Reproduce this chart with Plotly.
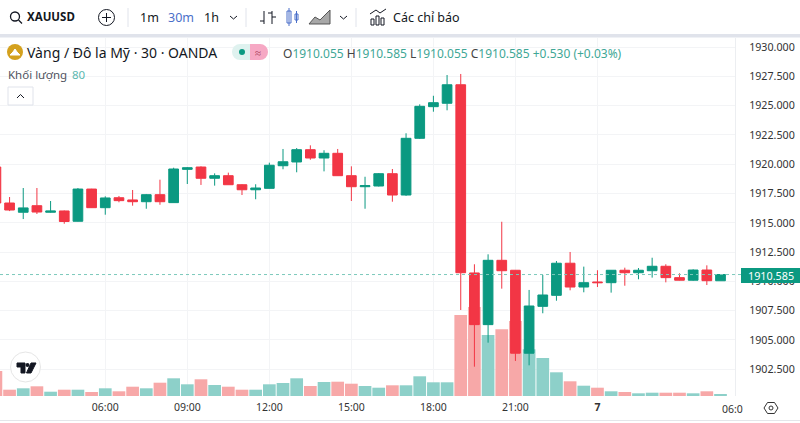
import plotly.graph_objects as go

FONT = "Noto Sans"
GREEN = "#0b9981"
RED = "#f23645"
VOL_GREEN = "#8dd0c9"
VOL_RED = "#f7a8a8"

# 30 minute bars, XAUUSD
open_ = [1919.76, 1916.69, 1915.90, 1916.46, 1915.90, 1916.01, 1915.13, 1917.88, 1916.29, 1917.14,
         1916.95, 1916.80, 1917.40, 1916.72, 1919.56, 1919.76, 1918.80, 1919.02, 1918.25, 1917.82,
         1917.94, 1919.87, 1920.19, 1921.24, 1920.53, 1920.93, 1919.02, 1918.08, 1918.14, 1919.19,
         1917.37, 1922.21, 1924.91, 1925.20, 1926.78, 1910.72, 1906.31, 1911.80, 1910.95, 1903.87,
         1907.87, 1908.81, 1911.55, 1909.52, 1909.95, 1909.89, 1910.95, 1910.74, 1910.91, 1911.29,
         1910.32, 1910.10, 1910.97, 1910.055]
high = [1919.93, 1917.20, 1917.97, 1917.97, 1916.86, 1916.05, 1917.97, 1917.90, 1917.26, 1917.29,
        1917.80, 1917.46, 1918.68, 1919.70, 1919.76, 1919.82, 1919.22, 1919.28, 1918.29, 1918.29,
        1920.13, 1921.30, 1921.38, 1921.61, 1921.19, 1921.30, 1919.82, 1918.93, 1919.25, 1919.59,
        1922.64, 1925.11, 1925.84, 1927.61, 1927.70, 1911.46, 1912.31, 1915.09, 1910.97, 1909.27,
        1910.55, 1911.74, 1912.51, 1911.26, 1910.95, 1910.97, 1911.17, 1911.14, 1912.02, 1911.46,
        1910.69, 1911.03, 1911.37, 1910.585]
low = [1916.52, 1916.00, 1915.32, 1915.75, 1915.86, 1914.92, 1915.11, 1916.27, 1915.69, 1916.75,
       1916.46, 1916.20, 1916.54, 1916.72, 1918.31, 1918.23, 1918.17, 1918.25, 1917.37, 1917.01,
       1917.93, 1919.57, 1919.31, 1920.38, 1919.39, 1919.00, 1916.86, 1916.20, 1918.10, 1916.80,
       1917.30, 1922.15, 1924.48, 1924.60, 1907.56, 1902.72, 1904.77, 1909.38, 1903.21, 1902.84,
       1907.28, 1908.35, 1909.24, 1909.07, 1909.52, 1909.04, 1909.63, 1910.18, 1910.32, 1909.92,
       1910.08, 1910.05, 1909.69, 1910.055]
close = [1916.69, 1916.09, 1916.27, 1915.92, 1916.01, 1915.11, 1917.88, 1916.29, 1917.12, 1916.89,
         1916.80, 1917.40, 1916.80, 1919.59, 1919.70, 1918.80, 1919.02, 1918.25, 1917.82, 1917.97,
         1919.91, 1920.21, 1921.24, 1920.53, 1920.93, 1919.02, 1918.08, 1918.17, 1919.19, 1917.37,
         1922.21, 1924.94, 1925.25, 1926.78, 1910.74, 1906.31, 1911.80, 1910.91, 1903.87, 1907.90,
         1908.84, 1911.55, 1909.52, 1909.89, 1909.89, 1910.95, 1910.74, 1910.95, 1911.29, 1910.32,
         1910.10, 1910.97, 1910.06, 1910.585]
volume = [1175, 296, 362, 456, 202, 296, 296, 188, 362, 221,
          437, 362, 625, 832, 550, 785, 517, 437, 296, 296,
          550, 611, 832, 470, 658, 672, 578, 470, 390, 503,
          503, 926, 644, 644, 3807, 4183, 2867, 3135, 3525, 2195,
          1786, 1114, 691, 484, 390, 221, 188, 127, 155, 155,
          155, 127, 221, 80]

tick_pos = [8, 14, 20, 26, 32, 38, 44]
tick_text = ["06:00", "09:00", "12:00", "15:00", "18:00", "21:00", "<b>7</b>"]
price_ticks = [1902.5, 1905, 1907.5, 1910, 1912.5, 1915, 1917.5, 1920, 1922.5, 1925, 1927.5, 1930]

bars = list(range(len(close)))
vol_colors = [VOL_GREEN if c >= o else VOL_RED for o, c in zip(open_, close)]

# plot area in page pixels, header and toolbar get placed with these
LEFT, RIGHT, TOP, BOTTOM = 0, 735, 38, 396


def px(x):
    return (x - LEFT) / (RIGHT - LEFT)


def py(y):
    return 1 - (y - TOP) / (BOTTOM - TOP)


fig = go.Figure()
fig.add_trace(go.Bar(x=bars, y=volume, marker=dict(color=vol_colors, line_width=0), yaxis="y"))
fig.add_trace(go.Candlestick(
    x=bars, open=open_, high=high, low=low, close=close, yaxis="y2",
    increasing=dict(line=dict(color=GREEN, width=1), fillcolor=GREEN),
    decreasing=dict(line=dict(color=RED, width=1), fillcolor=RED),
    whiskerwidth=0,
))


############### Header and toolbar pieces ###############
def text(x, y, s, size=12.5, color="#131722", anchor="left"):
    fig.add_annotation(xref="paper", yref="paper", x=px(x), y=py(y), text=s, showarrow=False,
                       xanchor=anchor, yanchor="middle", borderpad=0, borderwidth=0,
                       font=dict(family=FONT, size=size, color=color))


def line(x0, y0, x1, y1, color="#131722", width=1):
    fig.add_shape(type="line", xref="paper", yref="paper", x0=px(x0), y0=py(y0), x1=px(x1), y1=py(y1),
                  line=dict(color=color, width=width), layer="above")


def rect(x0, y0, x1, y1, fill, border=None):
    fig.add_shape(type="rect", xref="paper", yref="paper", x0=px(x0), y0=py(y0), x1=px(x1), y1=py(y1),
                  fillcolor=fill, line=dict(color=border or fill, width=1 if border else 0), layer="above")


def circle(cx, cy, r, fill="rgba(0,0,0,0)", border=None, width=1):
    fig.add_shape(type="circle", xref="paper", yref="paper", x0=px(cx - r), y0=py(cy - r), x1=px(cx + r), y1=py(cy + r),
                  fillcolor=fill, line=dict(color=border or fill, width=width if border else 0), layer="above")


def poly(points, color="#131722", fill=None, closed=False, width=1):
    path = "M" + " L".join(f"{px(x):.5f},{py(y):.5f}" for x, y in points) + (" Z" if closed else "")
    fig.add_shape(type="path", xref="paper", yref="paper", path=path, fillcolor=fill,
                  line=dict(color=color, width=width), layer="above")


# toolbar
rect(-1, 34, 801, 37.5, "#e0e3eb")
circle(15, 16.5, 4.5, border="#131722", width=1.3)
line(18.5, 20, 22, 23.5, width=1.3)
text(27, 17, "<b>XAUUSD</b>", 11.5)
circle(106.5, 17.5, 8, border="#131722")
line(102, 17.5, 111, 17.5)
line(106.5, 13, 106.5, 22)
line(128, 8, 128, 27, "#e0e3eb")
text(140, 17.5, "1m", 12.5)
text(168, 17.5, "30m", 12.5, "#4a6fc9")
text(204, 17.5, "1h", 12.5)
poly([(230, 16), (233.5, 19), (237, 16)])
line(246, 8, 246, 27, "#e0e3eb")
# bar style icons
line(264, 11, 264, 24)
line(260, 21, 264, 21)
line(272, 11, 272, 24)
line(272, 17, 276, 17)
line(268, 13, 272, 13)
rect(287, 11, 291, 23, "white", "#4a6fc9")
line(289, 8, 289, 26, "#4a6fc9")
rect(295, 14, 298, 20, "white", "#4a6fc9")
line(296.5, 11, 296.5, 23, "#4a6fc9")
poly([(309, 24), (315, 17), (320, 20), (330, 10), (330, 24)], "#555555", "#a8a8a8", True)
poly([(340, 16), (343.5, 19), (347, 16)])
line(356, 8, 356, 27, "#e0e3eb")
rect(371, 19, 374, 25, "white", "#131722")
rect(376, 16, 379, 25, "white", "#131722")
rect(381, 18, 384, 25, "white", "#131722")
poly([(370, 14), (376, 10), (380, 13), (386, 9)])
text(393, 17.5, "Các chỉ báo", 12.5)

# legend rows
circle(15, 52, 8, "#d4a11e")
poly([(10, 55), (20, 55), (17, 52), (15, 49), (13, 52)], "white", "white", True)
text(27, 52, "Vàng / Đô la Mỹ · 30 · OANDA", 14)
circle(240, 52, 8, "#dff2ef")
rect(240, 44, 250, 60, "#dff2ef")
circle(242, 52, 3, GREEN)
circle(260, 52, 8, "#f6a8c4")
rect(250, 44, 260, 60, "#f6a8c4")
text(258, 52, "≈", 11, "#a0304f", "center")
text(283, 53, "O<span style='color:#3fa796'>1910.055</span> H<span style='color:#3fa796'>1910.585</span> "
              "L<span style='color:#3fa796'>1910.055</span> C<span style='color:#3fa796'>1910.585</span> "
              "<span style='color:#3fa796'>+0.530 (+0.03%)</span>", 12, "#444444")
text(8, 74, "Khối lượng", 11.5, "#50535e")
text(72, 74, "80", 11.5, "#5cb8b0")
rect(8, 87, 33, 105, "white", "#e0e3eb")
poly([(17, 98), (20.5, 94.5), (24, 98)])

# last price line and badge
fig.add_shape(type="line", xref="paper", yref="y2", x0=0, x1=px(741), y0=close[-1], y1=close[-1],
              line=dict(color="#7cc9bb", width=1, dash="dot"), layer="above")
rect(741, 268, 801, 283, GREEN)
text(770.5, 275.5, "1910.585", 10.8, "white", "center")

# tradingview mark
circle(25.5, 367, 15, "white", "#e6e6e6")
poly([(17, 363), (25, 363), (25, 373), (21, 373), (21, 367), (17, 367)], "#131722", "#131722", True)
circle(27.5, 365, 2, "#131722")
poly([(31, 363), (36, 363), (31, 373), (26.5, 373)], "#131722", "#131722", True)

# clipped last time label, settings button, bottom rule
text(722, 409, "06:0", 10.5, "#333333")
poly([(764, 408), (767.5, 402.5), (774.5, 402.5), (778, 408), (774.5, 413.5), (767.5, 413.5)], "#333333", None, True)
circle(771, 408, 2, border="#333333")
line(0, 420.5, 800, 420.5, "#e4e6ea")

fig.update_layout(
    width=800, height=423,
    margin=dict(l=0, r=65, t=38, b=27, pad=0),
    paper_bgcolor="white", plot_bgcolor="white",
    showlegend=False, bargap=0.07, boxgap=0.29, boxgroupgap=0,
    xaxis=dict(range=[0.3, 54.06], rangeslider_visible=False, tickmode="array", tickvals=tick_pos,
               ticktext=tick_text, showgrid=True, gridcolor="#f3f4f6", gridwidth=1, ticks="", zeroline=False,
               showline=False, ticklabelstandoff=3, tickfont=dict(family=FONT, size=10.5, color="#333333")),
    # volume sits on the hidden axis, flat to the bottom of the pane
    yaxis=dict(range=[0, 16826], visible=False, fixedrange=True),
    yaxis2=dict(range=[1900.22, 1930.77], overlaying="y", side="right", tickmode="array", tickvals=price_ticks,
                tickformat=".3f", showgrid=True, gridcolor="#f3f4f6", gridwidth=1, zeroline=False, ticks="",
                ticklabelstandoff=11, showline=True, linecolor="#eceef1", linewidth=1,
                tickfont=dict(family=FONT, size=10.7, color="#333333")),
)

# page default margin would push the chart 8px off
fig.write_html("out.html", config=dict(displayModeBar=False), post_script="document.body.style.margin='0';")
